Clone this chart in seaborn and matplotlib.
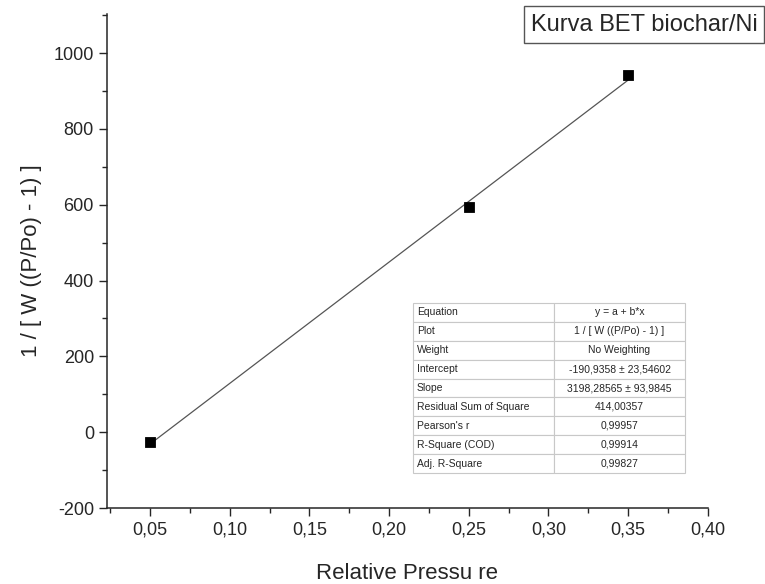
import matplotlib
matplotlib.use("Agg")
import matplotlib.pyplot as plt
import matplotlib.ticker as mticker
import numpy as np
import pandas as pd
import seaborn as sns

# data
rel_pressure = [0.05, 0.25, 0.35]
bet_value = [-25, 595, 942]
intercept = -190.9358
slope = 3198.28565

table_labels = ["Equation", "Plot", "Weight", "Intercept", "Slope",
                "Residual Sum of Square", "Pearson's r", "R-Square (COD)", "Adj. R-Square"]
table_values = ["y = a + b*x", "1 / [ W ((P/Po) - 1) ]", "No Weighting",
                "-190,9358 ± 23,54602", "3198,28565 ± 93,9845", "414,00357",
                "0,99957", "0,99914", "0,99827"]

sns.set_style("ticks")
plt.rcParams['font.family'] = ['Liberation Sans', 'DejaVu Sans']
plt.rcParams['axes.unicode_minus'] = False

df = pd.DataFrame({"x": rel_pressure, "y": bet_value})
fit = pd.DataFrame({"x": [min(rel_pressure), max(rel_pressure)]})
fit["y"] = intercept + slope * fit["x"]

fig = plt.figure(figsize=(7.65, 5.84), dpi=100)
ax = fig.add_axes([0.14, 0.130, 0.785, 0.846])

sns.lineplot(data=fit, x="x", y="y", ax=ax, color="#555555", linewidth=0.9)
sns.scatterplot(data=df, x="x", y="y", ax=ax, marker="s", s=55, color="black",
                edgecolor="black", zorder=3)

ax.set_xlim(0.023, 0.40)
ax.set_ylim(-200, 1103)
ax.set_xticks([0.05, 0.10, 0.15, 0.20, 0.25, 0.30, 0.35, 0.40])
ax.xaxis.set_minor_locator(mticker.MultipleLocator(0.025))
ax.set_yticks([-200, 0, 200, 400, 600, 800, 1000])
ax.yaxis.set_minor_locator(mticker.MultipleLocator(100))
ax.xaxis.set_major_formatter(mticker.FuncFormatter(lambda v, p: f"{v:.2f}".replace(".", ",")))
ax.tick_params(axis="both", which="major", length=6, width=1, labelsize=13, direction="out")
ax.tick_params(axis="both", which="minor", length=3.5, width=1, direction="out")
for s in ["top", "right"]:
    ax.spines[s].set_visible(False)
for s in ["left", "bottom"]:
    ax.spines[s].set_linewidth(1.1)

ax.set_xlabel("Relative Pressu re", fontsize=16, labelpad=18)
ax.set_ylabel("1 / [ W ((P/Po) - 1) ]", fontsize=16, labelpad=8)

tbl = ax.table(cellText=[[a, b] for a, b in zip(table_labels, table_values)],
               cellLoc="center", bbox=[0.509, 0.071, 0.453, 0.344])
tbl.auto_set_font_size(False)
tbl.set_fontsize(7.5)
for (r, c), cell in tbl.get_celld().items():
    cell.set_edgecolor("#c8c8c8")
    cell.set_linewidth(0.8)
    cell.set_width(0.52 * 0.453 if c == 0 else 0.48 * 0.453)
    if c == 0:
        cell.set_text_props(ha="left")
        cell.PAD = 0.03

fig.text(0.990, 0.958, "Kurva BET biochar/Ni", fontsize=17, ha="right", va="center",
         bbox=dict(boxstyle="square,pad=0.3", facecolor="white", edgecolor="#555555", linewidth=1))

fig.savefig("out.png", dpi=100)
